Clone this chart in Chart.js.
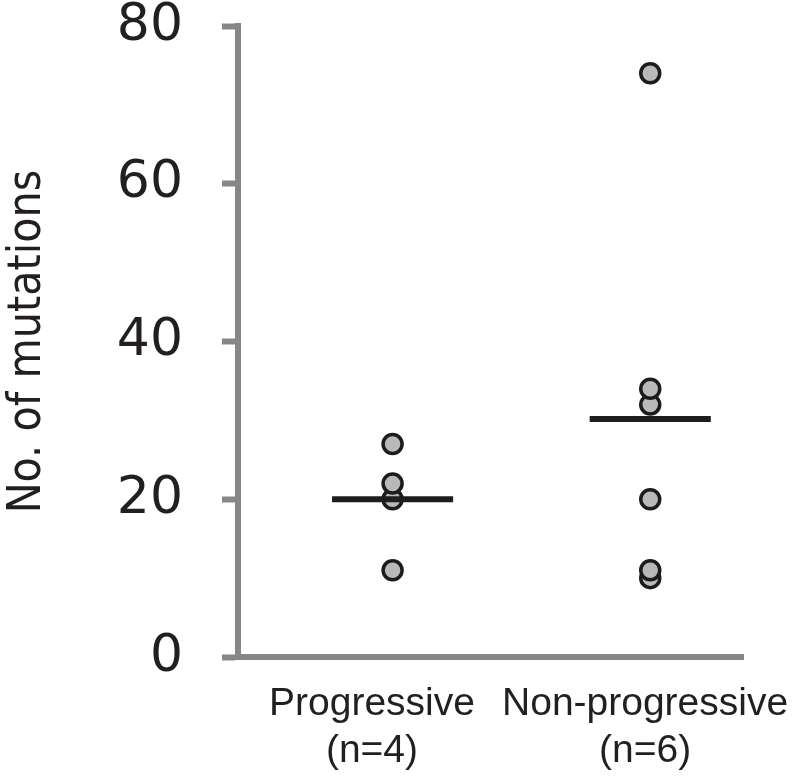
<!DOCTYPE html>
<html>
<head>
<meta charset="utf-8">
<script src="https://cdn.jsdelivr.net/npm/chart.js@4"></script>
<style>
  html, body { margin: 0; padding: 0; background: #fff; }
  #wrap { width: 800px; height: 776px; }
</style>
</head>
<body>
<div id="wrap"><canvas id="chart"></canvas></div>
<script>
// groups along the x axis (two-line labels)
const groups = [['Progressive', '(n=4)'], ['Non-progressive', '(n=6)']];
// number of mutations per patient
const progressive = [27, 20, 22, 11];
const nonProgressive = [74, 32, 34, 20, 10, 11];
const yTicks = [0, 20, 40, 60, 80];

const axisGrey = '#87878a';
const textColor = '#231f20';
const halfBar = 0.235;           // half width of the mean bar, in x units
const labelShift = [-0.08, -0.02]; // category labels sit a bit left of the dots

function mean(arr) {
    return arr.reduce((a, b) => a + b, 0) / arr.length;
}

// chart.js pads the chart area for tick labels; the layout padding handles that here
function noAutoPadding(scale) {
    scale.paddingTop = 0;
    scale.paddingBottom = 0;
    scale.paddingLeft = 0;
    scale.paddingRight = 0;
}

const series = [progressive, nonProgressive];

const dotSets = series.map((vals, i) => ({
    type: 'scatter',
    data: vals.map(v => ({ x: i + 1, y: v })),
    backgroundColor: '#b9b9bb',
    borderColor: '#1c1c1c',
    borderWidth: 3.5,
    pointRadius: 9.5,
    pointHoverRadius: 9.5,
    order: 2
}));

const meanSets = series.map((vals, i) => ({
    type: 'line',
    data: [
        { x: i + 1 - halfBar, y: mean(vals) },
        { x: i + 1 + halfBar, y: mean(vals) }
    ],
    borderColor: '#1e1e1e',
    borderWidth: 6,
    borderCapStyle: 'butt',
    pointRadius: 0,
    fill: false,
    order: 1
}));

const ctx = document.getElementById('chart').getContext('2d');
new Chart(ctx, {
    type: 'scatter',
    data: { datasets: [...meanSets, ...dotSets] },
    options: {
        responsive: true,
        maintainAspectRatio: false,
        animation: false,
        events: [],
        layout: { padding: { left: 0, right: 57, top: 26, bottom: 0 } },
        plugins: {
            legend: { display: false },
            tooltip: { enabled: false }
        },
        scales: {
            x: {
                type: 'linear',
                min: 0.4,
                max: 2.36,
                afterBuildTicks: (scale) => {
                    scale.ticks = groups.map((g, i) => ({ value: i + 1 + labelShift[i] }));
                },
                afterFit: (scale) => { scale.height = 119; noAutoPadding(scale); },
                grid: { display: true, drawOnChartArea: false, drawTicks: false },
                border: { display: true, color: axisGrey, width: 6 },
                ticks: {
                    autoSkip: false,
                    maxRotation: 0,
                    padding: 24,
                    color: textColor,
                    font: { family: "'Liberation Sans', Arial, sans-serif", size: 39, lineHeight: 1.2 },
                    callback: (v, idx) => groups[idx]
                }
            },
            y: {
                min: 0,
                max: 80,
                afterBuildTicks: (scale) => {
                    scale.ticks = yTicks.map(v => ({ value: v }));
                },
                afterFit: (scale) => { scale.width = 238; noAutoPadding(scale); },
                grid: {
                    display: true,
                    drawOnChartArea: false,
                    drawTicks: true,
                    tickLength: 16,
                    tickWidth: 6,
                    tickColor: axisGrey
                },
                border: { display: true, color: axisGrey, width: 6 },
                ticks: {
                    padding: 39,
                    color: textColor,
                    font: { family: "'DejaVu Sans', sans-serif", size: 52, lineHeight: 1 }
                },
                title: {
                    display: true,
                    text: 'No. of mutations',
                    color: textColor,
                    padding: { top: 0, bottom: 0 },
                    font: { family: "'DejaVu Sans Condensed', 'DejaVu Sans', sans-serif", size: 46, lineHeight: 1.2 }
                }
            }
        }
    }
});
</script>
</body>
</html>
